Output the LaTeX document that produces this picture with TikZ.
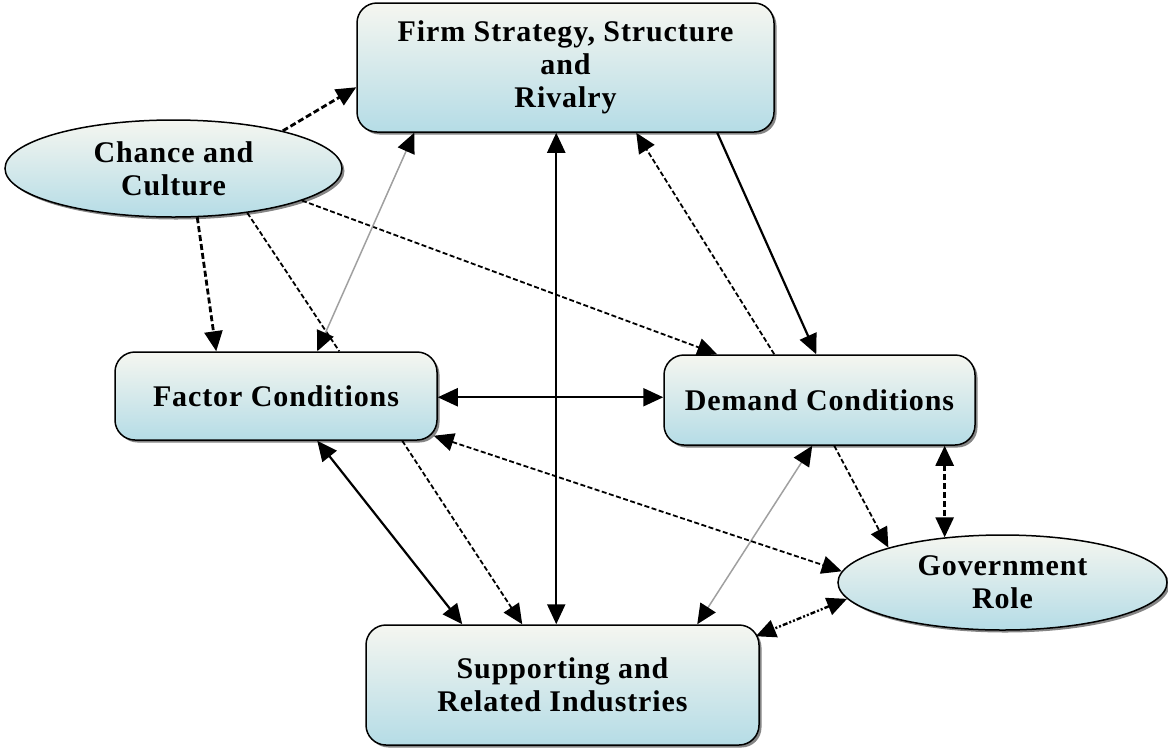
\documentclass[tikz,border=0pt]{standalone}
\usepackage{fontspec}
\setmainfont{Liberation Serif}[LetterSpace=3.0]
\usetikzlibrary{arrows.meta,shapes.geometric,shadows,calc}

\definecolor{boxtop}{RGB}{245,246,240}
\definecolor{boxbottom}{RGB}{181,220,230}
\definecolor{linkgrey}{RGB}{160,160,160}

\tikzset{
  card/.style={draw=black, line width=1.5pt, top color=boxtop, bottom color=boxbottom,
    drop shadow={shadow xshift=2.5pt, shadow yshift=-2.5pt, fill=black!80, opacity=0.6},
    align=center, inner sep=0pt, font=\bfseries\fontsize{30}{33}\selectfont},
  roundbox/.style={card, rectangle, rounded corners=20pt},
  oval/.style={card, ellipse},
  >={Triangle[length=20pt,width=18pt]},
  solidlink/.style={line width=2.2pt, draw=black},
  dashlink/.style={line width=1.8pt, draw=black, dash pattern=on 5pt off 2.5pt},
  heavydash/.style={line width=2.8pt, draw=black, dash pattern=on 6pt off 3pt},
  greylink/.style={line width=1.5pt, draw=linkgrey, >={Triangle[length=20pt,width=18pt,color=black]}},
  dotdash/.style={line width=2.4pt, draw=black, dash pattern=on 5pt off 2pt on 2pt off 2pt on 2pt off 2pt},
}

\begin{document}
\begin{tikzpicture}[x=1pt,y=-1pt]
  \useasboundingbox (0,0) rectangle (1168,748);

  % the six factors of the diamond
  \node[roundbox, minimum width=417pt, minimum height=129pt] (firm) at (565.5,67.5)
    {Firm Strategy, Structure\\and\\Rivalry};
  \node[oval, minimum width=337pt, minimum height=97pt] (chance) at (173.5,168.5)
    {Chance and\\Culture};
  \node[roundbox, minimum width=322pt, minimum height=88pt] (factor) at (276,396)
    {Factor Conditions};
  \node[roundbox, minimum width=311pt, minimum height=90pt] (demand) at (819.5,400)
    {Demand Conditions};
  \node[oval, minimum width=329pt, minimum height=95pt] (gov) at (1002.5,582.5)
    {Government\\Role};
  \node[roundbox, minimum width=393pt, minimum height=120pt] (supporting) at (562.5,685)
    {Supporting and\\Related Industries};

  % influences of chance and culture
  \draw[heavydash,->] (chance.19) -- ($(firm.north west)+(0,85)$);
  \draw[heavydash,->] (chance.-64) -- ($(factor.north west)+(102,0)$);
  \draw[dashlink] (chance.-31) -- ($(factor.north west)+(225,0)$);
  \draw[dashlink,->] (chance.-14) -- ($(demand.north west)+(54,0)$);

  % links of firm strategy
  \draw[greylink,<->] ($(factor.north west)+(203,0)$) -- ($(firm.south west)+(58,0)$);
  \draw[solidlink,<->] ($(firm.south west)+(200,0)$) -- ($(supporting.north west)+(191,0)$);
  \draw[dashlink,->] ($(demand.north west)+(111,0)$) -- ($(firm.south west)+(280,0)$);
  \draw[solidlink,->] ($(firm.south west)+(361,0)$) -- ($(demand.north west)+(153,0)$);

  % links between factor and demand conditions and industries
  \draw[solidlink,<->] ($(factor.north east)+(0,46)$) -- ($(demand.north west)+(0,43)$);
  \draw[solidlink,<->] ($(factor.south west)+(203,0)$) -- ($(supporting.north west)+(97,0)$);
  \draw[dashlink,->] ($(factor.south west)+(288,0)$) -- ($(supporting.north west)+(157,0)$);
  \draw[greylink,<->] ($(demand.south west)+(149,0)$) -- ($(supporting.north west)+(332,0)$);

  % role of government
  \draw[dashlink,<->] ($(factor.south east)+(-4,-5)$) -- (gov.176);
  \draw[dashlink,->] ($(demand.south west)+(171,0)$) -- (gov.163);
  \draw[heavydash,<->] (demand.south -| gov.142) -- (gov.142);
  \draw[dotdash,<->] (gov.186) -- ($(supporting.north east)+(-4,12)$);
\end{tikzpicture}
\end{document}
